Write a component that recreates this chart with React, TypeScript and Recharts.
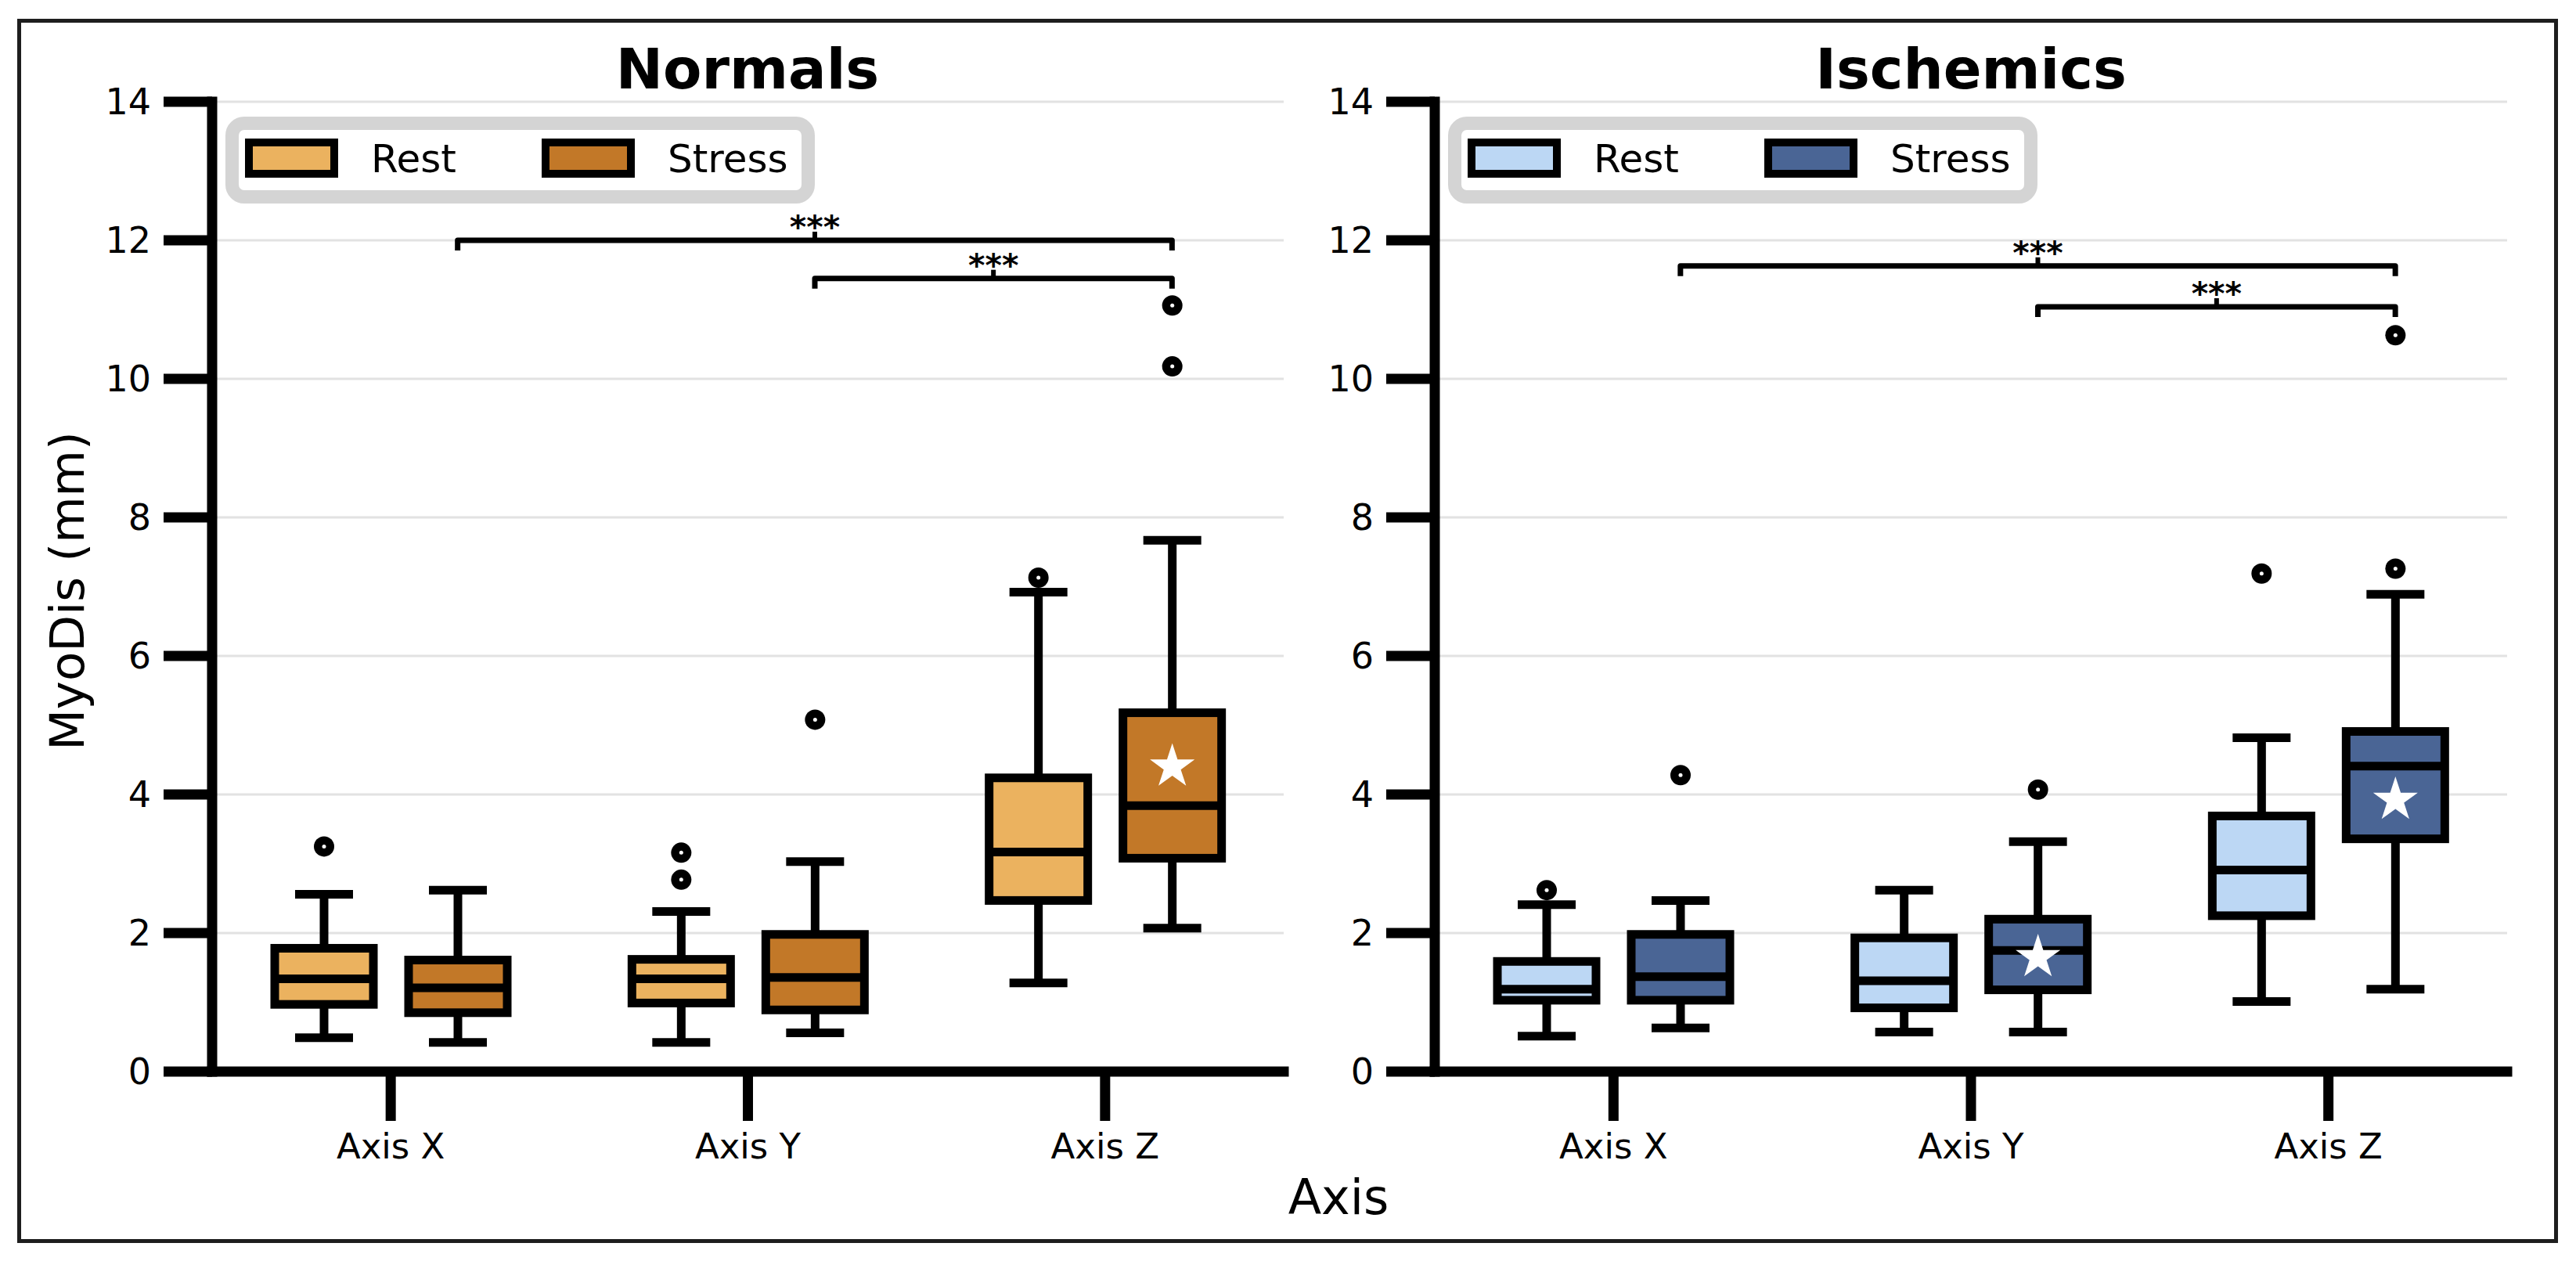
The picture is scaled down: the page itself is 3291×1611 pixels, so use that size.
import React from 'react';
import {
  ComposedChart,
  Bar,
  XAxis,
  YAxis,
  CartesianGrid,
  ReferenceLine,
  Legend,
} from 'recharts';

type BoxStats = {
  low: number;
  q1: number;
  median: number;
  q3: number;
  high: number;
  outliers: number[];
  star?: number;
};

const categories = ['Axis X', 'Axis Y', 'Axis Z'];
const yTicks = [0, 2, 4, 6, 8, 10, 12, 14];

// per-axis box statistics (mm)
const normalsRest: BoxStats[] = [
  { low: 0.49, q1: 0.97, median: 1.34, q3: 1.78, high: 2.56, outliers: [3.25] },
  { low: 0.42, q1: 0.99, median: 1.34, q3: 1.62, high: 2.31, outliers: [2.77, 3.16] },
  { low: 1.28, q1: 2.47, median: 3.17, q3: 4.24, high: 6.92, outliers: [7.13] },
];

const normalsStress: BoxStats[] = [
  { low: 0.42, q1: 0.85, median: 1.21, q3: 1.61, high: 2.62, outliers: [] },
  { low: 0.56, q1: 0.89, median: 1.36, q3: 1.98, high: 3.03, outliers: [5.08] },
  { low: 2.07, q1: 3.08, median: 3.84, q3: 5.18, high: 7.67, outliers: [10.18, 11.06], star: 4.4 },
];

const ischemicsRest: BoxStats[] = [
  { low: 0.51, q1: 1.03, median: 1.19, q3: 1.59, high: 2.41, outliers: [2.62] },
  { low: 0.57, q1: 0.92, median: 1.31, q3: 1.93, high: 2.62, outliers: [] },
  { low: 1.01, q1: 2.25, median: 2.91, q3: 3.69, high: 4.82, outliers: [7.19] },
];

const ischemicsStress: BoxStats[] = [
  { low: 0.63, q1: 1.03, median: 1.37, q3: 1.98, high: 2.47, outliers: [4.28] },
  { low: 0.57, q1: 1.18, median: 1.75, q3: 2.2, high: 3.32, outliers: [4.07], star: 1.65 },
  { low: 1.19, q1: 3.36, median: 4.41, q3: 4.91, high: 6.89, outliers: [7.26, 10.63], star: 3.92 },
];

// significance brackets between stress boxes
const normalsBrackets = [
  { from: 'Axis X', to: 'Axis Z', y: 12.0, label: '***' },
  { from: 'Axis Y', to: 'Axis Z', y: 11.45, label: '***' },
];

const ischemicsBrackets = [
  { from: 'Axis X', to: 'Axis Z', y: 11.63, label: '***' },
  { from: 'Axis Y', to: 'Axis Z', y: 11.04, label: '***' },
];

const FONT = '"DejaVu Sans", Verdana, sans-serif';
const BOX_WIDTH = 126;
const BOX_GAP = 45;
const STRESS_SHIFT = (BOX_WIDTH + BOX_GAP) / 2;
const LINE = 11;
const CAP_WIDTH = 74;
const spine = { stroke: '#000', strokeWidth: 13, strokeLinecap: 'square' as const };

function starPoints(cx: number, cy: number, r: number) {
  const inner = r * 0.382;
  const pts: string[] = [];
  for (let i = 0; i < 10; i++) {
    const a = -Math.PI / 2 + (i * Math.PI) / 5;
    const rr = i % 2 === 0 ? r : inner;
    pts.push(`${cx + rr * Math.cos(a)},${cy + rr * Math.sin(a)}`);
  }
  return pts.join(' ');
}

// the bar rect spans q1..q3, so the value->pixel mapping comes from its geometry
function BoxShape(props: any) {
  const { x, y, width, height, fill, stats } = props;
  const s: BoxStats = stats;
  const top = Math.min(y, y + height);
  const bottom = Math.max(y, y + height);
  const k = (bottom - top) / (s.q3 - s.q1);
  const py = (v: number) => bottom - (v - s.q1) * k;
  const cx = x + width / 2;
  return (
    <g>
      <line x1={cx} x2={cx} y1={py(s.high)} y2={top} stroke="#000" strokeWidth={LINE} />
      <line x1={cx} x2={cx} y1={bottom} y2={py(s.low)} stroke="#000" strokeWidth={LINE} />
      <line x1={cx - CAP_WIDTH / 2} x2={cx + CAP_WIDTH / 2} y1={py(s.high)} y2={py(s.high)} stroke="#000" strokeWidth={LINE} />
      <line x1={cx - CAP_WIDTH / 2} x2={cx + CAP_WIDTH / 2} y1={py(s.low)} y2={py(s.low)} stroke="#000" strokeWidth={LINE} />
      <rect x={x} y={top} width={width} height={bottom - top} fill={fill} stroke="#000" strokeWidth={LINE} />
      <line x1={x} x2={x + width} y1={py(s.median)} y2={py(s.median)} stroke="#000" strokeWidth={LINE} />
      {s.outliers.map((v, i) => (
        <g key={i}>
          <circle cx={cx} cy={py(v)} r={13} fill="#000" />
          <circle cx={cx} cy={py(v)} r={2.5} fill="#fff" />
        </g>
      ))}
      {s.star !== undefined && <polygon points={starPoints(cx, py(s.star), 30)} fill="#fff" />}
    </g>
  );
}

const bracketShape = (label: string) => (p: any) => {
  const xa = p.x1 + STRESS_SHIFT;
  const xb = p.x2 + STRESS_SHIFT;
  const yy = p.y1;
  const mid = (xa + xb) / 2;
  return (
    <g>
      <path
        d={`M${xa},${yy + 13} L${xa},${yy} L${xb},${yy} L${xb},${yy + 13}`}
        fill="none"
        stroke="#000"
        strokeWidth={7}
        strokeLinejoin="round"
      />
      <line x1={mid} x2={mid} y1={yy} y2={yy - 11} stroke="#000" strokeWidth={6} />
      <text x={mid} y={yy - 3} textAnchor="middle" fontSize={41} fontWeight="bold" fontFamily={FONT} fill="#000">
        {label}
      </text>
    </g>
  );
};

function LegendBox({ payload }: any) {
  const items = payload || [];
  return (
    <div
      style={{
        position: 'relative',
        width: 753,
        height: 111,
        border: '17px solid #d4d4d4',
        borderRadius: 24,
        boxSizing: 'border-box',
        background: '#fff',
        fontFamily: FONT,
        fontSize: 50,
        color: '#000',
      }}
    >
      {items.map((it: any, i: number) => (
        <div key={i} style={{ position: 'absolute', left: 8 + i * 379, top: 0 }}>
          <div
            style={{
              position: 'absolute',
              left: 0,
              top: 11,
              width: 119,
              height: 50,
              border: '10px solid #000',
              boxSizing: 'border-box',
              background: it.color,
            }}
          />
          <div style={{ position: 'absolute', left: 161, top: 8, whiteSpace: 'nowrap', lineHeight: 'normal' }}>
            {it.value}
          </div>
        </div>
      ))}
    </div>
  );
}

type PanelProps = {
  rest: BoxStats[];
  stress: BoxStats[];
  colors: [string, string];
  brackets: { from: string; to: string; y: number; label: string }[];
  width: number;
  yAxisWidth: number;
  rightMargin: number;
};

function Panel({ rest, stress, colors, brackets, width, yAxisWidth, rightMargin }: PanelProps) {
  const rows = categories.map((axis, i) => ({ axis, rest: rest[i], stress: stress[i] }));
  return (
    <ComposedChart
      width={width}
      height={1611}
      data={rows}
      margin={{ top: 130, right: rightMargin, bottom: 142, left: 0 }}
      barSize={BOX_WIDTH}
      barGap={BOX_GAP}
    >
      <CartesianGrid vertical={false} stroke="#e2e2e2" strokeWidth={3} />
      <XAxis
        dataKey="axis"
        interval={0}
        height={100}
        tickSize={63}
        tickMargin={16}
        axisLine={spine}
        tickLine={{ stroke: '#000', strokeWidth: 13 }}
        tick={{ fill: '#000', fontSize: 45, fontFamily: FONT }}
      />
      <XAxis xAxisId="top" orientation="top" dataKey="axis" height={0} tick={false} tickLine={false} axisLine={spine} />
      <YAxis
        type="number"
        domain={[0, 14]}
        ticks={yTicks}
        width={yAxisWidth}
        tickSize={62}
        tickMargin={16}
        axisLine={spine}
        tickLine={{ stroke: '#000', strokeWidth: 13 }}
        tick={{ fill: '#000', fontSize: 46, fontFamily: FONT }}
      />
      <YAxis yAxisId="right" orientation="right" type="number" domain={[0, 14]} width={0} tick={false} tickLine={false} axisLine={spine} />
      <Legend
        layout="horizontal"
        verticalAlign="middle"
        align="center"
        wrapperStyle={{ left: yAxisWidth + 17, top: 149, width: 753, height: 111 }}
        content={(p: any) => <LegendBox payload={p.payload} />}
      />
      <Bar
        name="Rest"
        dataKey={(d: any) => [d.rest.q1, d.rest.q3]}
        fill={colors[0]}
        isAnimationActive={false}
        shape={(p: any) => <BoxShape {...p} stats={p.payload.rest} />}
      />
      <Bar
        name="Stress"
        dataKey={(d: any) => [d.stress.q1, d.stress.q3]}
        fill={colors[1]}
        isAnimationActive={false}
        shape={(p: any) => <BoxShape {...p} stats={p.payload.stress} />}
      />
      {brackets.map((b, i) => (
        <ReferenceLine
          key={i}
          ifOverflow="visible"
          segment={[
            { x: b.from, y: b.y },
            { x: b.to, y: b.y },
          ]}
          shape={bracketShape(b.label)}
        />
      ))}
    </ComposedChart>
  );
}

export default function App() {
  return (
    <div style={{ position: 'absolute', left: 0, top: 0, width: 3291, height: 1611, background: '#fff', overflow: 'hidden' }}>
      <div
        style={{
          position: 'absolute',
          left: 22,
          top: 24,
          width: 3246,
          height: 1564,
          border: '5px solid #1e1e1e',
          boxSizing: 'border-box',
        }}
      />
      <div style={{ position: 'absolute', left: 0, top: 0 }}>
        <Panel
          rest={normalsRest}
          stress={normalsStress}
          colors={['#ebb25f', '#c27828']}
          brackets={normalsBrackets}
          width={1680}
          yAxisWidth={271}
          rightMargin={40}
        />
      </div>
      <div style={{ position: 'absolute', left: 1680, top: 0 }}>
        <Panel
          rest={ischemicsRest}
          stress={ischemicsStress}
          colors={['#bcd7f4', '#4a6595']}
          brackets={ischemicsBrackets}
          width={1611}
          yAxisWidth={153}
          rightMargin={88}
        />
      </div>
      <svg
        width={3291}
        height={1611}
        style={{ position: 'absolute', left: 0, top: 0, pointerEvents: 'none' }}
        fontFamily={FONT}
      >
        <text x={955} y={113} textAnchor="middle" fontSize={72} fontWeight="bold" fill="#000">
          Normals
        </text>
        <text x={2518} y={113} textAnchor="middle" fontSize={72} fontWeight="bold" fill="#000">
          Ischemics
        </text>
        <text transform="translate(107,755) rotate(-90)" textAnchor="middle" fontSize={61} fill="#000">
          MyoDis (mm)
        </text>
        <text x={1710} y={1551} textAnchor="middle" fontSize={62} fill="#000">
          Axis
        </text>
      </svg>
    </div>
  );
}
